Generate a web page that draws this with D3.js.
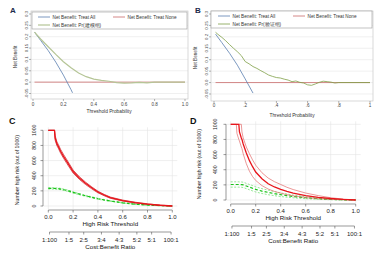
<!DOCTYPE html>
<html>
<head>
<meta charset="utf-8">
<script src="https://cdn.jsdelivr.net/npm/d3@7"></script>
<style>
body { margin: 0; background: #fff; }
svg { display: block; font-family: "Liberation Sans", Arial, sans-serif; }
</style>
</head>
<body>
<div id="chart"></div>
<script>
// ---- decision curves (A, B) ----
const dcaThrA = [0.01,0.05,0.10,0.15,0.20,0.25,0.30,0.35,0.40,0.45,0.50,0.55,0.60,0.65,0.70,0.75,0.80,0.85,0.90,0.95,1.00];
const nbModelA = [0.220,0.190,0.156,0.122,0.090,0.063,0.040,0.024,0.013,0.008,0.004,-0.002,-0.004,-0.003,-0.001,-0.003,0.000,0.000,0.000,0.000,0.000];
const allThrA = [0.01,0.05,0.10,0.15,0.20,0.25,0.26];
const nbAllA = [0.220,0.184,0.139,0.088,0.031,-0.033,-0.047];

const dcaThrB = [0.01,0.025,0.05,0.075,0.10,0.125,0.15,0.175,0.20,0.225,0.25,0.275,0.30,0.325,0.35,0.375,0.40,0.425,0.45,0.475,0.50,0.525,0.55,0.575,0.60,0.625,0.65,0.675,0.70,0.725,0.75,0.775,0.80,1.00];
const nbModelB = [0.220,0.211,0.198,0.183,0.166,0.150,0.135,0.118,0.092,0.082,0.070,0.062,0.052,0.043,0.033,0.027,0.022,0.020,0.015,0.011,0.004,0.007,0.001,-0.002,-0.010,-0.012,-0.006,0.001,0.006,0.004,0.002,-0.002,0.000,0.000];
const allThrB = [0.01,0.05,0.10,0.15,0.20,0.25];
const nbAllB = [0.212,0.175,0.128,0.076,0.016,-0.046];

const noneThr = [0.01, 1.00];
const nbNone = [0, 0];

const nbTicks = [-0.05,0,0.05,0.1,0.15,0.2,0.25,0.3];
const nbTickLabels = ["-0.05","0.0","0.05","0.1","0.15","0.2","0.25","0.3"];
const thrTicks = [0,0.2,0.4,0.6,0.8,1];
const thrLabelsA = ["0","0.2","0.4","0.6","0.8","1.0"];
const thrLabelsB = ["0",".2",".4",".6",".8","1"];

// ---- clinical impact curves (C, D) ----
const cicThrC = [0,0.05,0.055,0.07,0.08,0.10,0.125,0.15,0.175,0.20,0.25,0.30,0.35,0.40,0.45,0.50,0.60,0.70,0.80,0.90,1.00];
const hrC   = [1000,1000,900,820,790,720,650,585,520,455,370,300,240,185,145,110,72,45,25,10,0];
const hrLoC = [1000,1000,870,795,765,695,625,560,497,435,352,284,227,174,136,102,66,40,21,8,0];
const hrHiC = [1000,1000,930,845,815,745,675,610,543,475,388,316,253,196,154,118,78,50,29,12,0];
const woC   = [233,232,231,230,229,224,215,205,193,180,157,135,115,96,80,66,42,24,12,5,0];
const woLoC = [224,223,222,221,220,215,206,196,184,171,149,127,108,90,74,61,38,21,10,4,0];
const woHiC = [242,241,240,239,238,233,224,214,202,189,165,143,122,102,86,71,46,27,14,6,0];

const cicThrD = [0,0.045,0.05,0.065,0.07,0.085,0.09,0.10,0.125,0.15,0.175,0.20,0.25,0.30,0.35,0.40,0.45,0.50,0.60,0.70,0.80,0.90,1.00];
const hrD   = [1000,1000,1000,1000,900,820,800,740,620,520,440,370,280,215,172,140,115,92,58,36,20,8,0];
const hrLoD = [1000,1000,880,800,780,700,680,610,480,380,310,258,190,145,113,90,70,55,32,18,8,3,0];
const hrHiD = [1000,1000,1000,1000,1000,1000,900,820,700,610,530,460,360,290,242,205,168,138,92,58,30,12,0];
const woD   = [205,205,205,205,204,203,202,200,185,170,155,140,118,100,84,70,58,47,30,17,8,3,0];
const woLoD = [170,170,170,170,169,168,167,165,150,135,120,106,86,70,57,46,37,29,17,9,4,1,0];
const woHiD = [240,240,240,240,239,238,237,235,220,205,190,174,150,130,111,94,79,65,43,25,12,5,0];

const riskTicks = [0,200,400,600,800,1000];
const cicXTicks = [0,0.2,0.4,0.6,0.8,1];
const cbLabels = ["1:100","1:5","2:5","3:4","4:3","5:2","5:1","100:1"];
const cbPos = [0.0099,0.1667,0.2857,0.4286,0.5714,0.7143,0.8333,0.9901];

const W = 380, H = 254;
const svg = d3.select("#chart").append("svg").attr("width", W).attr("height", H);

function pts(xs, ys) { return xs.map((x, i) => [x, ys[i]]); }

// Stata-style decision curve panel
function drawDCA(p) {
    let g = svg.append("g");
    let x = d3.scaleLinear().domain([0, 1]).range([p.x0, p.x1]);
    let y = d3.scaleLinear().domain([-0.05, 0.3]).range([p.yLo, p.yHi]);

    // gridlines
    g.selectAll(".grid").data(nbTicks).enter().append("line")
        .attr("x1", p.fx0).attr("x2", p.fx1)
        .attr("y1", d => y(d)).attr("y2", d => y(d))
        .attr("stroke", "#e6e6e6").attr("stroke-width", 0.6);

    g.append("rect").attr("x", p.fx0).attr("y", p.fy0)
        .attr("width", p.fx1 - p.fx0).attr("height", p.fy1 - p.fy0)
        .attr("fill", "none").attr("stroke", "#c8c8c8").attr("stroke-width", 0.7);

    // y ticks + labels
    g.selectAll(".yt").data(nbTicks).enter().append("line")
        .attr("x1", p.fx0 - 2).attr("x2", p.fx0)
        .attr("y1", d => y(d)).attr("y2", d => y(d))
        .attr("stroke", "#666").attr("stroke-width", 0.5);
    g.selectAll(".yl").data(nbTicks).enter().append("text")
        .attr("transform", d => "translate(" + (p.fx0 - 3) + "," + y(d) + ") rotate(-90)")
        .attr("text-anchor", "middle").attr("font-size", 4.4).attr("fill", "#444")
        .text((d, i) => nbTickLabels[i]);
    g.append("text")
        .attr("transform", "translate(" + p.ytx + "," + ((p.fy0 + p.fy1) / 2 + 2) + ") rotate(-90)")
        .attr("text-anchor", "middle").attr("font-size", 4.6).attr("fill", "#333")
        .text("Net Benefit");

    // x ticks + labels
    g.selectAll(".xt").data(thrTicks).enter().append("line")
        .attr("x1", d => x(d)).attr("x2", d => x(d))
        .attr("y1", p.fy1).attr("y2", p.fy1 + 2)
        .attr("stroke", "#666").attr("stroke-width", 0.5);
    g.selectAll(".xl").data(thrTicks).enter().append("text")
        .attr("x", d => x(d)).attr("y", p.xly)
        .attr("text-anchor", "middle").attr("font-size", 4.6).attr("fill", "#444")
        .text((d, i) => p.xLabels[i]);
    g.append("text").attr("x", (p.x0 + p.x1) / 2).attr("y", p.xty)
        .attr("text-anchor", "middle").attr("font-size", 4.8).attr("fill", "#333")
        .text("Threshold Probability");

    let line = d3.line().x(d => x(d[0])).y(d => y(d[1]));
    g.append("path").datum(pts(noneThr, nbNone)).attr("d", line)
        .attr("fill", "none").attr("stroke", "#c96b6b").attr("stroke-width", 0.8);
    g.append("path").datum(pts(p.allThr, p.nbAll)).attr("d", line)
        .attr("fill", "none").attr("stroke", "#5b7fb0").attr("stroke-width", 0.8);
    g.append("path").datum(pts(p.thr, p.nb)).attr("d", line)
        .attr("fill", "none").attr("stroke", p.modelColor).attr("stroke-width", p.modelWidth);

    // legend
    let lg = g.append("g");
    lg.append("rect").attr("x", p.lx0).attr("y", p.ly0)
        .attr("width", p.lx1 - p.lx0).attr("height", p.ly1 - p.ly0)
        .attr("fill", "#fff").attr("stroke", "#9a9a9a").attr("stroke-width", 0.6);
    let items = [
        {c: "#5b7fb0", t: "Net Benefit: Treat All", x: p.lx0 + p.l1, y: p.ly0 + 5, w: 0.8},
        {c: "#c96b6b", t: "Net Benefit: Treat None", x: p.lx0 + p.l2, y: p.ly0 + 5, w: 0.8},
        {c: p.modelColor, t: p.modelLabel, x: p.lx0 + p.l1, y: p.ly0 + 13, w: p.modelWidth}
    ];
    items.forEach(it => {
        lg.append("line").attr("x1", it.x).attr("x2", it.x + p.lw)
            .attr("y1", it.y).attr("y2", it.y)
            .attr("stroke", it.c).attr("stroke-width", it.w);
        lg.append("text").attr("x", it.x + p.lw + 2.5).attr("y", it.y + 1.6)
            .attr("font-size", 4.7).attr("fill", "#333").text(it.t);
    });

    svg.append("text").attr("x", p.tagX).attr("y", p.tagY)
        .attr("font-size", 8).attr("font-weight", "bold").attr("fill", "#1d2b4a")
        .text(p.tag);
}

// rmda-style clinical impact panel
function drawCIC(p) {
    let g = svg.append("g");
    let x = d3.scaleLinear().domain([0, 1]).range([p.x0, p.x1]);
    let y = d3.scaleLinear().domain([0, 1000]).range([p.yLo, p.yHi]);
    let gx0 = p.x0 - 5, gx1 = p.x1 + 5;

    g.selectAll(".gv").data(cicXTicks).enter().append("line")
        .attr("x1", d => x(d)).attr("x2", d => x(d))
        .attr("y1", p.yHi - 3).attr("y2", p.yLo + 3)
        .attr("stroke", "#e4e4e4").attr("stroke-width", 0.6);
    g.selectAll(".gh").data(riskTicks).enter().append("line")
        .attr("x1", gx0).attr("x2", gx1)
        .attr("y1", d => y(d)).attr("y2", d => y(d))
        .attr("stroke", "#e4e4e4").attr("stroke-width", 0.6);

    // y axis
    g.append("line").attr("x1", p.sx).attr("x2", p.sx)
        .attr("y1", y(1000)).attr("y2", y(0)).attr("stroke", "#555").attr("stroke-width", 0.6);
    g.selectAll(".yt").data(riskTicks).enter().append("line")
        .attr("x1", p.sx - 2.5).attr("x2", p.sx)
        .attr("y1", d => y(d)).attr("y2", d => y(d))
        .attr("stroke", "#555").attr("stroke-width", 0.6);
    g.selectAll(".yl").data(riskTicks).enter().append("text")
        .attr("transform", d => "translate(" + p.ylx + "," + y(d) + ") rotate(-90)")
        .attr("text-anchor", "middle").attr("font-size", 5.2).attr("fill", "#222")
        .text(d => d);
    g.append("text")
        .attr("transform", "translate(" + p.ytx + "," + (y(500) + 2) + ") rotate(-90)")
        .attr("text-anchor", "middle").attr("font-size", 5.2).attr("fill", "#222")
        .text("Number high risk (out of 1000)");

    // threshold axis
    g.append("line").attr("x1", x(0)).attr("x2", x(1))
        .attr("y1", p.ax1).attr("y2", p.ax1).attr("stroke", "#555").attr("stroke-width", 0.6);
    g.selectAll(".xt").data(cicXTicks).enter().append("line")
        .attr("x1", d => x(d)).attr("x2", d => x(d))
        .attr("y1", p.ax1).attr("y2", p.ax1 + 2.5)
        .attr("stroke", "#555").attr("stroke-width", 0.6);
    g.selectAll(".xl").data(cicXTicks).enter().append("text")
        .attr("x", d => x(d)).attr("y", p.ax1 + 8.5)
        .attr("text-anchor", "middle").attr("font-size", 6).attr("fill", "#222")
        .text(d => d3.format(".1f")(d));
    g.append("text").attr("x", x(0.5)).attr("y", p.ax1 + 15.5)
        .attr("text-anchor", "middle").attr("font-size", 6.2).attr("fill", "#111")
        .text("High Risk Threshold");

    // cost:benefit axis
    g.append("line").attr("x1", x(cbPos[0])).attr("x2", x(cbPos[cbPos.length - 1]))
        .attr("y1", p.ax2).attr("y2", p.ax2).attr("stroke", "#555").attr("stroke-width", 0.6);
    g.selectAll(".ct").data(cbPos).enter().append("line")
        .attr("x1", d => x(d)).attr("x2", d => x(d))
        .attr("y1", p.ax2).attr("y2", p.ax2 + 2.5)
        .attr("stroke", "#555").attr("stroke-width", 0.6);
    g.selectAll(".cl").data(cbPos).enter().append("text")
        .attr("x", d => x(d)).attr("y", p.ax2 + 10)
        .attr("text-anchor", "middle").attr("font-size", 6).attr("fill", "#222")
        .text((d, i) => cbLabels[i]);
    g.append("text").attr("x", x(0.5)).attr("y", p.ax2 + 16.5)
        .attr("text-anchor", "middle").attr("font-size", 6.2).attr("fill", "#111")
        .text("Cost:Benefit Ratio");

    let line = d3.line().x(d => x(d[0])).y(d => y(d[1]));
    let thr = p.thr;
    [p.woLo, p.woHi].forEach(v => {
        g.append("path").datum(pts(thr, v)).attr("d", line)
            .attr("fill", "none").attr("stroke", "#4fd64f").attr("stroke-width", 0.6)
            .attr("stroke-dasharray", "2,1.5");
    });
    g.append("path").datum(pts(thr, p.wo)).attr("d", line)
        .attr("fill", "none").attr("stroke", "#18c418").attr("stroke-width", 1.2)
        .attr("stroke-dasharray", "3,2");
    [p.hrLo, p.hrHi].forEach(v => {
        g.append("path").datum(pts(thr, v)).attr("d", line)
            .attr("fill", "none").attr("stroke", p.ciColor).attr("stroke-width", 0.7);
    });
    g.append("path").datum(pts(thr, p.hr)).attr("d", line)
        .attr("fill", "none").attr("stroke", "#e8141b").attr("stroke-width", 1.3);

    svg.append("text").attr("x", p.tagX).attr("y", p.tagY)
        .attr("font-size", 9).attr("font-weight", "bold").attr("fill", "#111")
        .text(p.tag);
}

drawDCA({
    tag: "A", tagX: 10, tagY: 13,
    x0: 33, x1: 185, yLo: 93.5, yHi: 14,
    fx0: 31, fx1: 188, fy0: 11, fy1: 99,
    ytx: 17, xly: 105.5, xty: 113,
    xLabels: thrLabelsA,
    thr: dcaThrA, nb: nbModelA, allThr: allThrA, nbAll: nbAllA,
    modelColor: "#b5c596", modelWidth: 1.2, modelLabel: "Net Benefit: Pr(建模组)",
    lx0: 32, lx1: 187, ly0: 12, ly1: 29, l1: 6, l2: 81, lw: 12
});

drawDCA({
    tag: "B", tagX: 195, tagY: 13,
    x0: 214, x1: 370, yLo: 94, yHi: 14,
    fx0: 211, fx1: 373, fy0: 11, fy1: 101,
    ytx: 197, xly: 107, xty: 117,
    xLabels: thrLabelsB,
    thr: dcaThrB, nb: nbModelB, allThr: allThrB, nbAll: nbAllB,
    modelColor: "#7f9f46", modelWidth: 0.8, modelLabel: "Net Benefit: Pr(验证组)",
    lx0: 211, lx1: 372, ly0: 11, ly1: 28, l1: 7, l2: 82, lw: 12
});

drawCIC({
    tag: "C", tagX: 9, tagY: 124,
    x0: 48.3, x1: 172.3, yLo: 206, yHi: 130.3,
    sx: 43, ylx: 35.5, ytx: 18.5, ax1: 210, ax2: 232,
    thr: cicThrC, hr: hrC, hrLo: hrLoC, hrHi: hrHiC, wo: woC, woLo: woLoC, woHi: woHiC,
    ciColor: "#c81a1f"
});

drawCIC({
    tag: "D", tagX: 190, tagY: 124,
    x0: 230.7, x1: 355.7, yLo: 200, yHi: 124.3,
    sx: 226, ylx: 217, ytx: 201, ax1: 204, ax2: 226,
    thr: cicThrD, hr: hrD, hrLo: hrLoD, hrHi: hrHiD, wo: woD, woLo: woLoD, woHi: woHiD,
    ciColor: "#e36a6a"
});
</script>
</body>
</html>
